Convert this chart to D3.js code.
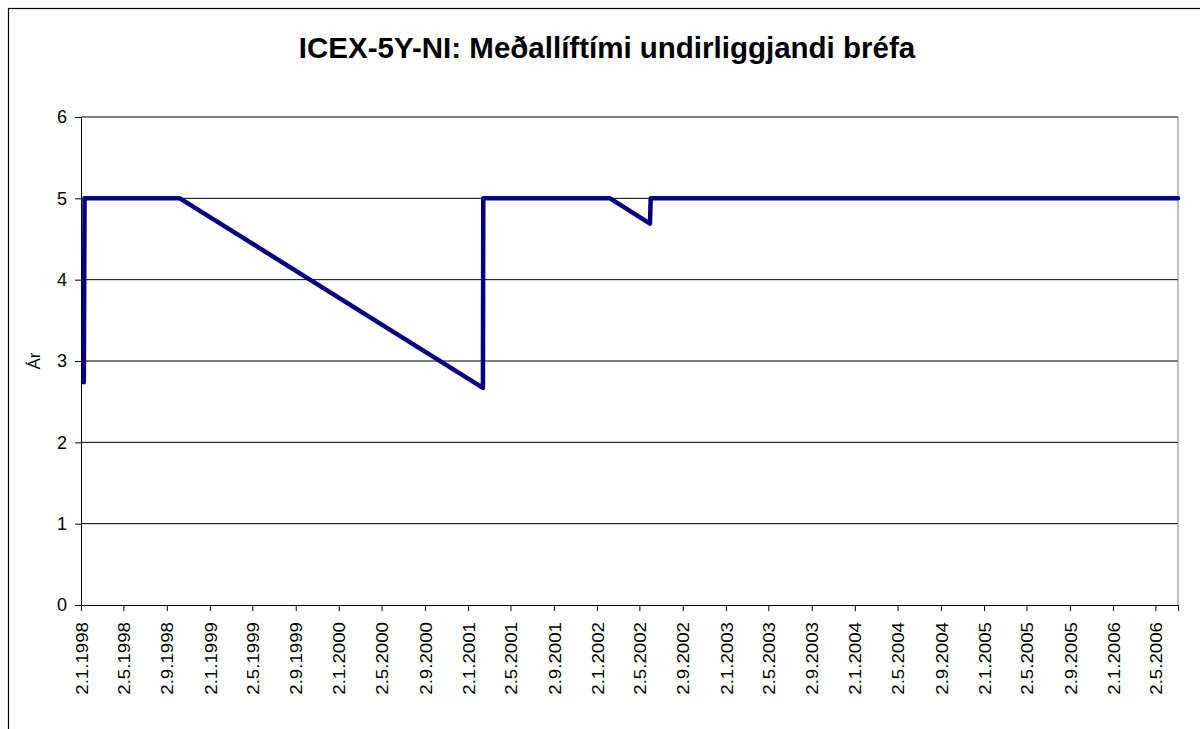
<!DOCTYPE html>
<html>
<head>
<meta charset="utf-8">
<script src="https://cdn.jsdelivr.net/npm/d3@7"></script>
<style>
  body { margin: 0; background: #fff; }
  text { font-family: "Liberation Sans", Arial, sans-serif; fill: #000; }
</style>
</head>
<body>
<script>
const width = 1200;
const height = 729;
const margin = {top: 117, right: 22, bottom: 124, left: 81};

const title = 'ICEX-5Y-NI: Meðallíftími undirliggjandi bréfa';
const yLabel = 'Ár';

// data
const dates = ['1998-01-10', '1998-01-12', '1998-10-09', '2001-02-13', '2001-02-14',
  '2002-02-08', '2002-06-01', '2002-06-03', '2006-07-05'];
const values = [2.74, 5, 5, 2.67, 5, 5, 4.69, 5, 5];

const tickLabels = ['2.1.1998', '2.5.1998', '2.9.1998', '2.1.1999', '2.5.1999', '2.9.1999',
  '2.1.2000', '2.5.2000', '2.9.2000', '2.1.2001', '2.5.2001', '2.9.2001',
  '2.1.2002', '2.5.2002', '2.9.2002', '2.1.2003', '2.5.2003', '2.9.2003',
  '2.1.2004', '2.5.2004', '2.9.2004', '2.1.2005', '2.5.2005', '2.9.2005',
  '2.1.2006', '2.5.2006'];
const yTicks = [0, 1, 2, 3, 4, 5, 6];

const parseDate = d3.timeParse('%Y-%m-%d');
const parseTick = d3.timeParse('%-d.%-m.%Y');
const fmtTick = d3.timeFormat('%-d.%-m.%Y');

const data = dates.map((d, i) => ({date: parseDate(d), value: values[i]}));

const svg = d3.select('body').append('svg')
  .attr('width', width)
  .attr('height', height);

svg.append('rect')
  .attr('width', width).attr('height', height)
  .attr('fill', '#fff');

// outer chart border
svg.append('rect')
  .attr('x', 8.5).attr('y', 8.5)
  .attr('width', width).attr('height', height)
  .attr('fill', 'none')
  .attr('stroke', '#000')
  .attr('stroke-width', 1.2);

const x = d3.scaleTime()
  .domain([parseDate('1998-01-02'), parseDate('2006-07-05')])
  .range([margin.left, width - margin.right]);

const y = d3.scaleLinear()
  .domain([0, 6])
  .range([height - margin.bottom, margin.top]);

// gridlines
svg.append('g')
  .selectAll('line')
  .data(yTicks.slice(1))
  .join('line')
    .attr('x1', margin.left)
    .attr('x2', width - margin.right)
    .attr('y1', d => y(d))
    .attr('y2', d => y(d))
    .attr('stroke', '#000')
    .attr('stroke-width', 1);

// right border of plot area
svg.append('line')
  .attr('x1', width - margin.right).attr('x2', width - margin.right)
  .attr('y1', margin.top).attr('y2', height - margin.bottom)
  .attr('stroke', '#808080');

// y axis
const yAxis = svg.append('g')
  .attr('transform', `translate(${margin.left},0)`)
  .call(d3.axisLeft(y).tickValues(yTicks).tickSize(6).tickPadding(8).tickFormat(d3.format('d')));
yAxis.select('.domain').attr('stroke', '#000');
yAxis.selectAll('.tick line').attr('stroke', '#000');
yAxis.selectAll('.tick text')
  .style('font-size', '18px')
  .attr('font-family', null);

// x axis
const xAxis = svg.append('g')
  .attr('transform', `translate(0,${height - margin.bottom})`)
  .call(d3.axisBottom(x)
    .tickValues(tickLabels.map(parseTick))
    .tickSize(6)
    .tickFormat(fmtTick));
xAxis.select('.domain').attr('stroke', '#000');
xAxis.selectAll('.tick line').attr('stroke', '#000');
xAxis.selectAll('.tick text')
  .attr('font-family', null)
  .style('font-size', '17px')
  .attr('text-anchor', 'end')
  .attr('dy', '0.36em')
  .attr('transform', 'translate(0,17) rotate(-90) scale(1.1,1)')
  .attr('x', 0)
  .attr('y', 0);

// series line
svg.append('path')
  .datum(data)
  .attr('fill', 'none')
  .attr('stroke', '#000080')
  .attr('stroke-width', 4.5)
  .attr('stroke-linejoin', 'round')
  .attr('stroke-linecap', 'round')
  .attr('d', d3.line().x(d => x(d.date)).y(d => y(d.value)));

// title
svg.append('text')
  .attr('x', 607)
  .attr('y', 58)
  .attr('text-anchor', 'middle')
  .style('font-size', '29.5px')
  .style('font-weight', 'bold')
  .text(title);

// y label
svg.append('text')
  .attr('transform', 'translate(40,361) rotate(-90)')
  .attr('text-anchor', 'middle')
  .style('font-size', '17px')
  .text(yLabel);
</script>
</body>
</html>
